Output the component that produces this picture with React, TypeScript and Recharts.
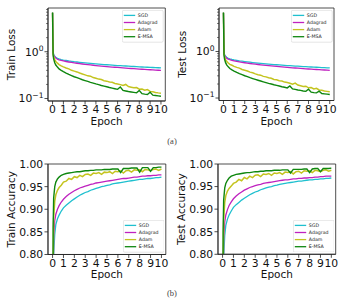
import React from 'react';
import { LineChart, Line, XAxis, YAxis, Legend, CartesianGrid } from 'recharts';

// Epoch positions shared by every series
const epochs = [
  0, 0.05, 0.1, 0.2, 0.3, 0.45, 0.6, 0.8, 1,
  1.25, 1.5, 1.75, 2, 2.25, 2.5, 2.75, 3, 3.25, 3.5, 3.75, 4,
  4.25, 4.5, 4.75, 5, 5.25, 5.5, 5.75, 6, 6.25, 6.5, 6.75, 7,
  7.25, 7.5, 7.75, 8, 8.25, 8.5, 8.75, 9, 9.25, 9.5, 9.75, 10,
];

const seriesNames = ['SGD', 'Adagrad', 'Adam', 'E-MSA'];
const seriesColors = ['#1fc0cf', '#bf22bf', '#c4c420', '#0f870f'];
const seriesWidths = [1.3, 1.3, 1.5, 1.4];

const epochTicks = [0, 1, 2, 3, 4, 5, 6, 7, 8, 9, 10];
const lossTicks = [0.1, 0.2, 0.3, 0.4, 0.5, 0.6, 0.7, 0.8, 0.9, 1, 2, 3, 4, 5, 6, 7, 8];
const lossMajor = [0.1, 1];
const lossMajorExp = ['−1', '0'];
const accTicks = [0.8, 0.85, 0.9, 0.95, 1.0];
const accTickLabels = ['0.80', '0.85', '0.90', '0.95', '1.00'];

// Training loss
const trainLossSgd = [6.8, 1.05, 0.88, 0.8, 0.76, 0.72, 0.7, 0.68, 0.665, 0.65, 0.635, 0.625, 0.612, 0.603, 0.594, 0.585, 0.577, 0.57, 0.563, 0.556, 0.55, 0.544, 0.538, 0.532, 0.527, 0.522, 0.517, 0.512, 0.507, 0.503, 0.499, 0.495, 0.491, 0.487, 0.483, 0.479, 0.476, 0.472, 0.469, 0.466, 0.463, 0.46, 0.457, 0.455, 0.452];
const trainLossAdagrad = [6.8, 1.0, 0.84, 0.77, 0.73, 0.69, 0.67, 0.65, 0.635, 0.618, 0.603, 0.59, 0.578, 0.567, 0.557, 0.547, 0.538, 0.53, 0.522, 0.514, 0.507, 0.5, 0.494, 0.488, 0.482, 0.476, 0.471, 0.466, 0.461, 0.456, 0.451, 0.447, 0.442, 0.438, 0.434, 0.43, 0.426, 0.422, 0.419, 0.415, 0.412, 0.409, 0.405, 0.402, 0.399];
const trainLossAdam = [6.8, 0.95, 0.78, 0.68, 0.62, 0.57, 0.53, 0.5, 0.475, 0.45, 0.43, 0.4, 0.385, 0.37, 0.35, 0.335, 0.32, 0.305, 0.3, 0.28, 0.272, 0.26, 0.255, 0.24, 0.235, 0.225, 0.222, 0.21, 0.205, 0.198, 0.19, 0.2, 0.18, 0.175, 0.17, 0.172, 0.158, 0.16, 0.15, 0.155, 0.142, 0.14, 0.135, 0.132, 0.13];
const trainLossEmsa = [6.9, 0.85, 0.7, 0.58, 0.52, 0.47, 0.43, 0.4, 0.375, 0.35, 0.328, 0.31, 0.292, 0.28, 0.265, 0.252, 0.242, 0.232, 0.222, 0.214, 0.205, 0.198, 0.19, 0.184, 0.178, 0.172, 0.167, 0.162, 0.157, 0.176, 0.149, 0.145, 0.141, 0.138, 0.135, 0.132, 0.148, 0.127, 0.124, 0.122, 0.136, 0.118, 0.116, 0.114, 0.112];

// Test loss
const testLossSgd = [6.8, 1.02, 0.86, 0.79, 0.75, 0.715, 0.695, 0.675, 0.66, 0.645, 0.63, 0.619, 0.607, 0.597, 0.588, 0.579, 0.571, 0.563, 0.556, 0.549, 0.542, 0.536, 0.53, 0.524, 0.519, 0.514, 0.509, 0.504, 0.499, 0.495, 0.491, 0.487, 0.483, 0.479, 0.475, 0.471, 0.468, 0.464, 0.461, 0.458, 0.455, 0.452, 0.449, 0.446, 0.443];
const testLossAdagrad = [6.8, 0.98, 0.83, 0.76, 0.72, 0.685, 0.665, 0.645, 0.63, 0.613, 0.598, 0.585, 0.573, 0.562, 0.552, 0.542, 0.533, 0.525, 0.517, 0.509, 0.502, 0.495, 0.489, 0.483, 0.477, 0.471, 0.466, 0.461, 0.456, 0.451, 0.446, 0.442, 0.437, 0.433, 0.429, 0.425, 0.421, 0.417, 0.414, 0.41, 0.407, 0.404, 0.4, 0.397, 0.394];
const testLossAdam = [6.8, 0.94, 0.77, 0.67, 0.615, 0.565, 0.53, 0.505, 0.48, 0.455, 0.44, 0.41, 0.395, 0.38, 0.36, 0.348, 0.33, 0.318, 0.31, 0.292, 0.285, 0.272, 0.266, 0.25, 0.246, 0.236, 0.232, 0.22, 0.215, 0.208, 0.198, 0.21, 0.19, 0.184, 0.178, 0.18, 0.166, 0.168, 0.157, 0.162, 0.149, 0.147, 0.141, 0.139, 0.136];
const testLossEmsa = [6.9, 0.84, 0.69, 0.575, 0.515, 0.468, 0.432, 0.402, 0.38, 0.356, 0.335, 0.318, 0.301, 0.288, 0.274, 0.262, 0.251, 0.241, 0.232, 0.223, 0.215, 0.207, 0.2, 0.193, 0.187, 0.181, 0.175, 0.17, 0.165, 0.182, 0.157, 0.153, 0.149, 0.146, 0.142, 0.139, 0.155, 0.134, 0.131, 0.129, 0.14, 0.125, 0.123, 0.121, 0.119];

// Training accuracy
const trainAccSgd = [0.1, 0.62, 0.8, 0.845, 0.866, 0.879, 0.887, 0.896, 0.903, 0.909, 0.914, 0.919, 0.923, 0.927, 0.931, 0.934, 0.937, 0.939, 0.942, 0.944, 0.946, 0.948, 0.95, 0.951, 0.953, 0.954, 0.956, 0.957, 0.958, 0.959, 0.96, 0.961, 0.962, 0.963, 0.964, 0.965, 0.966, 0.966, 0.967, 0.968, 0.968, 0.969, 0.97, 0.97, 0.971];
const trainAccAdagrad = [0.1, 0.7, 0.84, 0.875, 0.889, 0.9, 0.908, 0.916, 0.922, 0.928, 0.933, 0.937, 0.941, 0.944, 0.947, 0.949, 0.951, 0.953, 0.955, 0.956, 0.958, 0.959, 0.96, 0.961, 0.962, 0.963, 0.964, 0.965, 0.966, 0.967, 0.968, 0.968, 0.969, 0.97, 0.971, 0.971, 0.972, 0.973, 0.973, 0.974, 0.974, 0.975, 0.975, 0.976, 0.976];
const trainAccAdam = [0.1, 0.75, 0.88, 0.918, 0.932, 0.942, 0.948, 0.953, 0.96, 0.962, 0.968, 0.966, 0.972, 0.97, 0.975, 0.972, 0.977, 0.978, 0.975, 0.98, 0.979, 0.981, 0.977, 0.982, 0.981, 0.983, 0.979, 0.984, 0.983, 0.985, 0.98, 0.985, 0.986, 0.982, 0.987, 0.986, 0.987, 0.983, 0.988, 0.987, 0.985, 0.988, 0.989, 0.986, 0.989];
const trainAccEmsa = [0.1, 0.86, 0.925, 0.95, 0.96, 0.967, 0.971, 0.975, 0.977, 0.979, 0.98, 0.981, 0.982, 0.983, 0.983, 0.984, 0.985, 0.985, 0.986, 0.986, 0.987, 0.987, 0.987, 0.988, 0.988, 0.988, 0.989, 0.989, 0.989, 0.981, 0.99, 0.99, 0.99, 0.991, 0.991, 0.991, 0.982, 0.992, 0.992, 0.992, 0.984, 0.992, 0.992, 0.993, 0.993];

// Test accuracy
const testAccSgd = [0.1, 0.6, 0.79, 0.842, 0.864, 0.878, 0.887, 0.896, 0.904, 0.91, 0.915, 0.92, 0.924, 0.928, 0.932, 0.935, 0.938, 0.94, 0.943, 0.945, 0.947, 0.949, 0.95, 0.952, 0.953, 0.955, 0.956, 0.957, 0.958, 0.959, 0.96, 0.961, 0.962, 0.962, 0.963, 0.964, 0.965, 0.965, 0.966, 0.966, 0.967, 0.967, 0.968, 0.968, 0.969];
const testAccAdagrad = [0.1, 0.68, 0.835, 0.872, 0.887, 0.899, 0.908, 0.916, 0.923, 0.929, 0.934, 0.938, 0.942, 0.945, 0.948, 0.95, 0.952, 0.954, 0.955, 0.957, 0.958, 0.959, 0.96, 0.961, 0.962, 0.963, 0.964, 0.965, 0.965, 0.966, 0.967, 0.967, 0.968, 0.968, 0.969, 0.969, 0.97, 0.97, 0.971, 0.971, 0.972, 0.972, 0.973, 0.973, 0.973];
const testAccAdam = [0.1, 0.74, 0.875, 0.915, 0.93, 0.94, 0.946, 0.951, 0.957, 0.96, 0.966, 0.963, 0.97, 0.967, 0.973, 0.97, 0.975, 0.976, 0.972, 0.978, 0.977, 0.979, 0.975, 0.98, 0.979, 0.981, 0.977, 0.982, 0.981, 0.983, 0.978, 0.983, 0.984, 0.98, 0.985, 0.984, 0.985, 0.981, 0.986, 0.985, 0.983, 0.986, 0.987, 0.984, 0.986];
const testAccEmsa = [0.1, 0.85, 0.92, 0.947, 0.957, 0.964, 0.969, 0.973, 0.975, 0.977, 0.978, 0.979, 0.98, 0.981, 0.981, 0.982, 0.983, 0.983, 0.984, 0.984, 0.985, 0.985, 0.985, 0.986, 0.986, 0.986, 0.987, 0.987, 0.987, 0.98, 0.988, 0.988, 0.988, 0.988, 0.989, 0.989, 0.981, 0.989, 0.99, 0.99, 0.983, 0.99, 0.99, 0.99, 0.991];

const FONT = '"DejaVu Sans", Verdana, sans-serif';
const INK = '#111';
const SPINE = { stroke: '#222', strokeWidth: 0.8 };
const AXIS_W = 48;
const TOP_PAD = 10;
const RIGHT_PAD = 3;
const X_AXIS_H = 30;
const epochDomain: [number, number] = [-0.42, 10.4];
const lossDomain: [number, number] = [0.0885, 8.6];
const accDomain: [number, number] = [0.8, 1.0];
const keys = ['s0', 's1', 's2', 's3'];

function EpochTick(props: any) {
  const { x, y, payload } = props;
  return (
    <g>
      <line x1={x} x2={x} y1={y} y2={y + 3.5} stroke="#222" strokeWidth={0.8} />
      <text x={x} y={y + 12.3} textAnchor="middle" fontSize={10.8} fontFamily={FONT} fill={INK}>
        {payload.value}
      </text>
    </g>
  );
}

function LogTick(props: any) {
  const { x, y, payload } = props;
  const idx = lossMajor.indexOf(payload.value);
  const major = idx >= 0;
  return (
    <g>
      <line x1={x} x2={x - (major ? 3.5 : 2)} y1={y} y2={y} stroke="#222" strokeWidth={major ? 0.8 : 0.6} />
      {major && (
        <text x={x - 4.5} y={y + 3.9} textAnchor="end" fontSize={10.8} fontFamily={FONT} fill={INK}>
          <tspan>10</tspan>
          <tspan dy={-4.6} fontSize={7.6}>{lossMajorExp[idx]}</tspan>
        </text>
      )}
    </g>
  );
}

function AccTick(props: any) {
  const { x, y, payload } = props;
  const idx = accTicks.indexOf(payload.value);
  return (
    <g>
      <line x1={x} x2={x - 3.5} y1={y} y2={y} stroke="#222" strokeWidth={0.8} />
      <text x={x - 4.8} y={y + 3.9} textAnchor="end" fontSize={10.8} fontFamily={FONT} fill={INK}>
        {accTickLabels[idx]}
      </text>
    </g>
  );
}

type PanelSpec = {
  left: number;
  top: number;
  plotW: number;
  plotH: number;
  yLabel: string;
  kind: 'loss' | 'acc';
  cols: number[][];
  legendAt: 'top' | 'bottom';
};

const LEG_W = 41.5;
const LEG_H = 32.5;

function LegendBox(props: any) {
  const payload = [...(props.payload || [])].sort(
    (a: any, b: any) => seriesNames.indexOf(a.value) - seriesNames.indexOf(b.value),
  );
  return (
    <svg width={LEG_W} height={LEG_H} style={{ display: 'block' }}>
      <rect x={0.3} y={0.3} width={LEG_W - 0.6} height={LEG_H - 0.6} rx={1.5} fill="#fff" fillOpacity={0.85} stroke="#d4d4d4" strokeWidth={0.6} />
      {payload.map((e: any, i: number) => {
        const cy = 5.4 + i * 7.1;
        return (
          <g key={e.value}>
            <line x1={1.8} x2={13.2} y1={cy} y2={cy} stroke={e.color} strokeWidth={1.3} />
            <text x={15.8} y={cy + 1.7} fontSize={4.7} fontFamily={FONT} fill="#222">
              {e.value}
            </text>
          </g>
        );
      })}
    </svg>
  );
}

function MetricPanel({ p }: { p: PanelSpec }) {
  const rows = epochs.map((epoch, i) => {
    const r: Record<string, number> = { epoch };
    p.cols.forEach((c, k) => {
      r[keys[k]] = c[i];
    });
    return r;
  });
  const width = AXIS_W + p.plotW + RIGHT_PAD;
  const height = TOP_PAD + p.plotH + X_AXIS_H;
  const isLoss = p.kind === 'loss';
  const legLeft = AXIS_W + p.plotW - 1.5 - LEG_W;
  const legTop = p.legendAt === 'top' ? TOP_PAD + 2 : TOP_PAD + p.plotH - 2 - LEG_H;
  const yLabelX = AXIS_W - 33;
  const yLabelY = TOP_PAD + p.plotH / 2;
  const frameX = [AXIS_W, AXIS_W + p.plotW];
  const frameY = [TOP_PAD, TOP_PAD + p.plotH];

  return (
    <div style={{ position: 'absolute', left: p.left, top: p.top - TOP_PAD }}>
      <LineChart width={width} height={height} data={rows} margin={{ top: TOP_PAD, right: RIGHT_PAD, bottom: 0, left: 0 }}>
        {/* axes frame: all four spines */}
        <CartesianGrid
          stroke="#222"
          strokeWidth={0.8}
          fill="none"
          verticalPoints={frameX}
          horizontalPoints={frameY}
        />
        <XAxis
          dataKey="epoch"
          type="number"
          domain={epochDomain}
          ticks={epochTicks}
          interval={0}
          allowDataOverflow
          height={X_AXIS_H}
          tickSize={0}
          tickMargin={0}
          tickLine={false}
          axisLine={SPINE}
          tick={<EpochTick />}
          label={{
            content: () => (
              <text x={AXIS_W + p.plotW / 2} y={TOP_PAD + p.plotH + 24} textAnchor="middle" fontSize={10.5} fontFamily={FONT} fill={INK}>
                Epoch
              </text>
            ),
          }}
        />
        <YAxis
          type="number"
          scale={isLoss ? 'log' : 'linear'}
          domain={isLoss ? lossDomain : accDomain}
          ticks={isLoss ? lossTicks : accTicks}
          interval={0}
          allowDataOverflow
          width={AXIS_W}
          tickSize={0}
          tickMargin={0}
          tickLine={false}
          axisLine={SPINE}
          tick={isLoss ? <LogTick /> : <AccTick />}
          label={{
            content: () => (
              <text
                x={yLabelX}
                y={yLabelY}
                transform={`rotate(-90, ${yLabelX}, ${yLabelY})`}
                textAnchor="middle"
                fontSize={10.5}
                fontFamily={FONT}
                fill={INK}
              >
                {p.yLabel}
              </text>
            ),
          }}
        />
        {keys.map((k, i) => (
          <Line
            key={k}
            dataKey={k}
            name={seriesNames[i]}
            type="linear"
            stroke={seriesColors[i]}
            strokeWidth={seriesWidths[i]}
            dot={false}
            isAnimationActive={false}
          />
        ))}
        <Legend
          layout="vertical"
          align="center"
          verticalAlign="middle"
          wrapperStyle={{ left: legLeft, top: legTop, width: LEG_W, height: LEG_H }}
          content={<LegendBox />}
        />
      </LineChart>
    </div>
  );
}

const panels: PanelSpec[] = [
  { left: -0.3, top: 8, plotW: 117.3, plotH: 93, yLabel: 'Train Loss', kind: 'loss', legendAt: 'top', cols: [trainLossSgd, trainLossAdagrad, trainLossAdam, trainLossEmsa] },
  { left: 171, top: 8, plotW: 115, plotH: 92.5, yLabel: 'Test Loss', kind: 'loss', legendAt: 'top', cols: [testLossSgd, testLossAdagrad, testLossAdam, testLossEmsa] },
  { left: -0.3, top: 164, plotW: 117.8, plotH: 90.5, yLabel: 'Train Accuracy', kind: 'acc', legendAt: 'bottom', cols: [trainAccSgd, trainAccAdagrad, trainAccAdam, trainAccEmsa] },
  { left: 170.3, top: 164, plotW: 117.7, plotH: 90.3, yLabel: 'Test Accuracy', kind: 'acc', legendAt: 'bottom', cols: [testAccSgd, testAccAdagrad, testAccAdam, testAccEmsa] },
];

export default function App() {
  return (
    <div style={{ position: 'absolute', left: 0, top: 0, width: 341, height: 302, background: '#fff', overflow: 'hidden' }}>
      <svg width={341} height={302} style={{ position: 'absolute', left: 0, top: 0 }}>
        <text x={172} y={143.5} textAnchor="middle" fontSize={8.5} fontFamily='"Liberation Serif", serif' fill="#444">(a)</text>
        <text x={172} y={296} textAnchor="middle" fontSize={8.5} fontFamily='"Liberation Serif", serif' fill="#444">(b)</text>
      </svg>
      {panels.map((p) => (
        <MetricPanel key={p.yLabel} p={p} />
      ))}
    </div>
  );
}
